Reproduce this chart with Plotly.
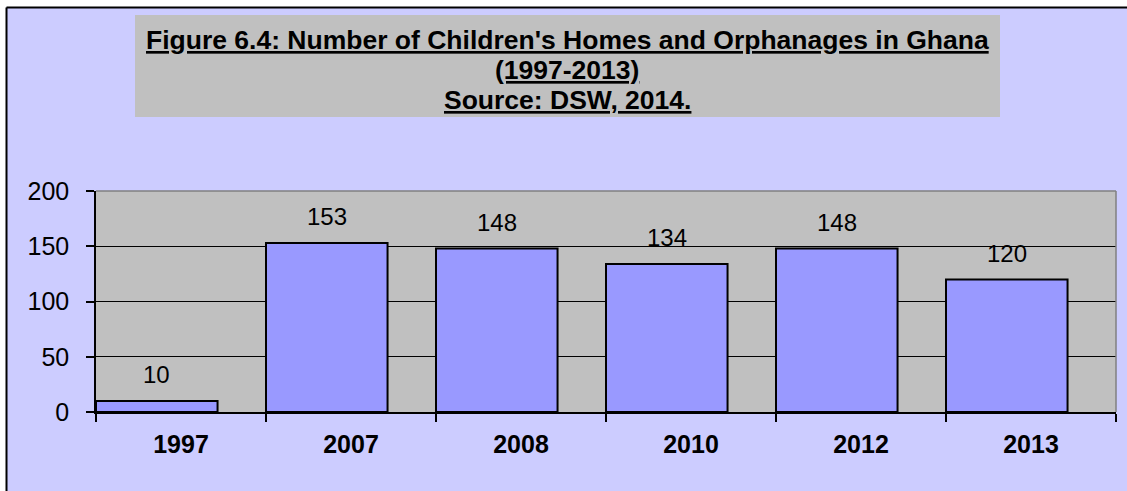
import plotly.graph_objects as go

# Children's homes and orphanages in Ghana, by year
years = ["1997", "2007", "2008", "2010", "2012", "2013"]
homes = [10, 153, 148, 134, 148, 120]
y_ticks = [0, 50, 100, 150, 200]

title_lines = [
    "Figure 6.4: Number of Children's Homes and Orphanages in Ghana",
    "(1997-2013)",
    "Source: DSW, 2014.",
]

W, H = 1127, 491
ML, MR, MT, MB = 96, 11, 191, 79
PW, PH = W - ML - MR, H - MT - MB

LAVENDER = "#CCCCFF"
BAR_FILL = "#9999FF"
PLOT_GRAY = "#C0C0C0"
FONT = "Liberation Sans, Arial, sans-serif"

BAR_WIDTH = 0.715
BAR_OFFSET = -0.5


def px_x(px):
    return (px - ML) / PW


def px_y(py):
    return (H - MB - py) / PH


fig = go.Figure(
    go.Bar(
        x=years,
        y=homes,
        width=BAR_WIDTH,
        offset=BAR_OFFSET,
        marker=dict(color=BAR_FILL, line=dict(color="black", width=2)),
        hoverinfo="x+y",
    )
)

shapes = [
    # white strips framing the chart at top-left
    dict(type="rect", xref="paper", yref="paper", x0=px_x(-5), x1=px_x(W + 5),
         y0=px_y(7), y1=px_y(-5), fillcolor="white", line=dict(width=0), layer="below"),
    dict(type="rect", xref="paper", yref="paper", x0=px_x(-5), x1=px_x(6),
         y0=px_y(H + 5), y1=px_y(-5), fillcolor="white", line=dict(width=0), layer="below"),
    # black frame edges
    dict(type="line", xref="paper", yref="paper", x0=px_x(6.5), x1=px_x(W + 5),
         y0=px_y(7.5), y1=px_y(7.5), line=dict(color="black", width=2), layer="below"),
    dict(type="line", xref="paper", yref="paper", x0=px_x(6.5), x1=px_x(6.5),
         y0=px_y(7.5), y1=px_y(H + 5), line=dict(color="black", width=2), layer="below"),
    # title box
    dict(type="rect", xref="paper", yref="paper", x0=px_x(135), x1=px_x(1000),
         y0=px_y(117), y1=px_y(15), fillcolor=PLOT_GRAY, line=dict(width=0), layer="below"),
    # grey top and right edges of the plotting area
    dict(type="line", xref="paper", yref="paper", x0=0, x1=1, y0=1, y1=1,
         line=dict(color="#808080", width=1.5), layer="above"),
    dict(type="line", xref="paper", yref="paper", x0=1, x1=1, y0=0, y1=1,
         line=dict(color="#808080", width=1.5), layer="above"),
]

annotations = []

# three underlined title lines inside the grey box
for line, cy in zip(title_lines, [40, 70, 100]):
    annotations.append(
        dict(
            text=f"<b><u>{line}</u></b>",
            xref="paper", yref="paper", x=px_x(567), y=px_y(cy),
            xanchor="center", yanchor="middle", showarrow=False,
            font=dict(family=FONT, size=26.5, color="black"),
        )
    )

# value labels centred over each bar
for i, v in enumerate(homes):
    annotations.append(
        dict(
            text=str(v), x=i + BAR_OFFSET + BAR_WIDTH / 2, y=v,
            xref="x", yref="y", xanchor="center", yanchor="middle",
            yshift=26, showarrow=False,
            font=dict(family=FONT, size=24, color="black"),
        )
    )

fig.update_layout(
    width=W, height=H,
    margin=dict(l=ML, r=MR, t=MT, b=MB, pad=0),
    paper_bgcolor=LAVENDER,
    plot_bgcolor=PLOT_GRAY,
    showlegend=False,
    shapes=shapes,
    annotations=annotations,
    xaxis=dict(
        type="category", range=[-0.5, 5.5],
        tickson="boundaries", ticks="outside", ticklen=8, tickwidth=1.5, tickcolor="black",
        showline=True, linecolor="black", linewidth=1.5,
        showgrid=False, ticklabelstandoff=9,
        tickfont=dict(family=FONT, size=25, color="black", weight="bold"),
    ),
    yaxis=dict(
        range=[0, 200], tickvals=y_ticks,
        ticks="outside", ticklen=8, tickwidth=1.5, tickcolor="black",
        showline=True, linecolor="black", linewidth=1.5,
        showgrid=True, gridcolor="black", gridwidth=1, zeroline=False,
        ticklabelstandoff=12,
        tickfont=dict(family=FONT, size=25, color="black"),
    ),
    font=dict(family=FONT),
)

fig.write_html("out.html")
